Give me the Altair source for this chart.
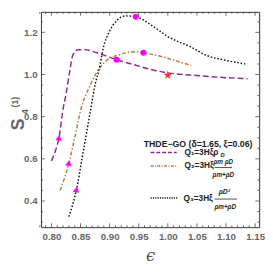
import altair as alt
import pandas as pd

# ---------------- data ----------------
series_names = ["Q1", "Q2", "Q3"]
series_colors = ["#93278F", "#B97A3E", "#111111"]

q1_x = [0.800, 0.807, 0.813, 0.820, 0.825, 0.832, 0.837, 0.845, 0.857, 0.878, 0.912, 0.945, 0.975, 1.000, 1.050, 1.100, 1.137]
q1_y = [0.590, 0.640, 0.700, 0.837, 0.906, 1.025, 1.094, 1.117, 1.118, 1.103, 1.070, 1.044, 1.021, 1.008, 0.995, 0.985, 0.980]

q2_x = [0.815, 0.830, 0.840, 0.850, 0.867, 0.878, 0.895, 0.917, 0.945, 0.958, 0.975, 1.000, 1.020, 1.040]
q2_y = [0.450, 0.580, 0.700, 0.828, 0.952, 1.011, 1.067, 1.094, 1.108, 1.103, 1.094, 1.077, 1.060, 1.043]

q3_x = [0.830, 0.843, 0.855, 0.867, 0.875, 0.882, 0.890, 0.898, 0.912, 0.928, 0.945, 0.975, 1.000, 1.040, 1.067, 1.095, 1.133]
q3_y = [0.326, 0.455, 0.640, 0.828, 0.952, 1.025, 1.136, 1.195, 1.255, 1.278, 1.274, 1.228, 1.180, 1.130, 1.090, 1.070, 1.050]

circle_x = [0.912, 0.958, 0.945]
circle_y = [1.070, 1.103, 1.274]
triangle_x = [0.813, 0.830, 0.843]
triangle_y = [0.700, 0.580, 0.455]
star_x = [1.000]
star_y = [0.997]

x_major = [0.80, 0.85, 0.90, 0.95, 1.00, 1.05, 1.10, 1.15]
x_minor = [round(0.78 + 0.01 * i, 2) for i in range(38) if round(0.78 + 0.01 * i, 2) not in x_major]
y_major = [0.4, 0.6, 0.8, 1.0, 1.2]
y_minor = [round(0.30 + 0.05 * i, 2) for i in range(20) if round(0.30 + 0.05 * i, 2) not in y_major]

legend_title = "THDE\u2212GO (\u03b4=1.65, \u03be=0.06)"
legend_main = ["Q\u2081=3H\u03be\u03c1", "Q\u2082=3H\u03be", "Q\u2083=3H\u03be"]
x_title = "\u03f5"
y_title_parts = ["S", "4", "(1)"]

# ---------------- build ----------------
W, H = 225, 222
xdom = [0.782, 1.157]
ydom = [0.276, 1.297]
xs = alt.Scale(domain=xdom, nice=False, zero=False)
ys = alt.Scale(domain=ydom, nice=False, zero=False)

lab_font = "Liberation Sans"
lab_color = "#666666"

main_x_axis = alt.Axis(orient="bottom", values=x_major, format=".2f", ticks=False, domain=False, grid=False,
                       labelFont=lab_font, labelFontSize=10, labelColor=lab_color, labelPadding=5,
                       labelFontWeight="bold",
                       titleFont="DejaVu Serif", titleFontSize=17, titleFontStyle="italic",
                       titleFontWeight="normal", titleColor="#555555", titlePadding=6)
main_y_axis = alt.Axis(orient="left", values=y_major, format=".1f", ticks=False, domain=False, grid=False,
                       labelFont=lab_font, labelFontSize=10, labelColor=lab_color, labelPadding=4,
                       labelFontWeight="bold")

def X(field="x"):
    return alt.X(f"{field}:Q", scale=xs, axis=main_x_axis, title=x_title)

def Y(field="y"):
    return alt.Y(f"{field}:Q", scale=ys, axis=main_y_axis, title=None)

dashes = [[6, 3], [4, 2, 1.5, 2], [1.6, 1.9]]
line_layers = []
for i, (xx, yy) in enumerate(zip([q1_x, q2_x, q3_x], [q1_y, q2_y, q3_y])):
    d = pd.DataFrame({"x": xx, "y": yy})
    line_layers.append(
        alt.Chart(d).mark_line(strokeWidth=1.5, interpolate="monotone", color=series_colors[i],
                               strokeDash=dashes[i]).encode(x=X(), y=Y(), order="x:Q")
    )

circ = alt.Chart(pd.DataFrame({"x": circle_x, "y": circle_y})).mark_point(
    shape="circle", filled=True, color="#FF00FF", size=40, opacity=1).encode(x=X(), y=Y())

tri = alt.Chart(pd.DataFrame({"x": triangle_x, "y": triangle_y})).mark_point(
    shape="triangle-up", filled=True, color="#FF00FF", size=45, opacity=1, angle=10).encode(x=X(), y=Y())

STAR_PATH = ("M0,-1L0.2245,-0.309L0.951,-0.309L0.3633,0.118L0.5878,0.809L0,0.382"
             "L-0.5878,0.809L-0.3633,0.118L-0.951,-0.309L-0.2245,-0.309Z")
star = alt.Chart(pd.DataFrame({"x": star_x, "y": star_y})).mark_point(
    shape=STAR_PATH, filled=True, color="#FF2A2A", size=90, opacity=1).encode(x=X(), y=Y())

tick_col = "#444444"

def xticks(vals, length):
    d = pd.DataFrame({"x": vals})
    base = alt.Chart(d).mark_rule(color=tick_col, strokeWidth=0.8)
    return [
        base.encode(x=X(), y=alt.value(H), y2=alt.value(H - length)),
        base.encode(x=X(), y=alt.value(0), y2=alt.value(length)),
    ]

def yticks(vals, length):
    d = pd.DataFrame({"y": vals})
    base = alt.Chart(d).mark_rule(color=tick_col, strokeWidth=0.8)
    return [
        base.encode(y=Y(), x=alt.value(0), x2=alt.value(length)),
        base.encode(y=Y(), x=alt.value(W), x2=alt.value(W - length)),
    ]

tick_layers = xticks(x_major, 4) + xticks(x_minor, 2) + yticks(y_major, 4) + yticks(y_minor, 2)

one = pd.DataFrame({"x": [1.0], "y": [1.0]})
leg_font = "Liberation Sans"

def txt(s, x, y, size=8.5, weight="bold", align="left", style="normal", color="#222222", angle=0):
    return alt.Chart(one).mark_text(align=align, baseline="middle", fontSize=size,
                                    fontWeight=weight, font=leg_font, fontStyle=style,
                                    color=color, text=s, angle=angle).encode(x=alt.value(x), y=alt.value(y))

def seg(x1, x2, y, color, dash=None):
    kw = {"strokeWidth": 1.5, "color": color}
    if dash:
        kw["strokeDash"] = dash
    else:
        kw["strokeWidth"] = 0.8
    return alt.Chart(one).mark_rule(**kw).encode(
        x=alt.value(x1), x2=alt.value(x2), y=alt.value(y))

# y-axis title built from parts (rotated), positions relative to plot origin
ytitle = [
    txt(y_title_parts[0], -23, 116, size=18, color="#666666", align="center", angle=270),
    txt(y_title_parts[1], -16, 103, size=10, color="#666666", align="center", angle=270),
    txt(y_title_parts[2], -27, 93, size=9, color="#666666", align="center", angle=270),
]

# legend (positions relative to plot origin)
leg = [
    txt(legend_title, 162, 136, size=9, align="center"),
    seg(113, 140, 145, series_colors[0], [4, 2]),
    txt(legend_main[0], 148, 145),
    txt("D", 185, 147.5, size=6, style="italic"),
    seg(113, 140, 159, series_colors[1], [3, 1.5, 1, 1.5]),
    txt(legend_main[1], 148, 158),
    txt("\u03c1m \u03c1D", 188, 155, size=6.5, style="italic", align="center"),
    seg(179, 197, 160.5, "#222222"),
    txt("\u03c1m+\u03c1D", 188, 168, size=6.5, style="italic", align="center"),
    seg(113, 141, 192, series_colors[2], [1.2, 1.2]),
    txt(legend_main[2], 147, 192),
    txt("\u03c1D\u00b2", 189, 186, size=7, style="italic", align="center"),
    seg(179, 202, 193, "#222222"),
    txt("\u03c1m+\u03c1D", 190, 201, size=6.5, style="italic", align="center"),
]

chart = alt.layer(*line_layers, circ, tri, star, *tick_layers, *ytitle, *leg).properties(
    width=W, height=H,
    autosize=alt.AutoSizeParams(type="none"),
    padding={"left": 34, "top": 0, "right": 6, "bottom": 35},
    background="white",
).configure_view(stroke="#333333", strokeWidth=1)

chart.save("out.html", embed_options={"renderer": "svg", "actions": False})
